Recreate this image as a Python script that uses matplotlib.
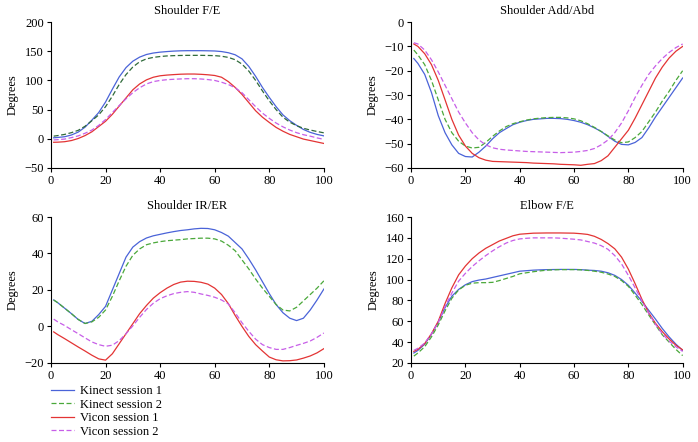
import numpy as np
import matplotlib
matplotlib.use("Agg")
import matplotlib.pyplot as plt

plt.rcParams['font.family'] = ['Liberation Serif', 'DejaVu Serif']
plt.rcParams['font.size'] = 9

# percent of movement cycle
x = [1, 2.5, 5, 7.5, 10, 12.5, 15, 17.5, 20, 22.5, 25, 27.5, 30, 32.5, 35, 37.5, 40,
     42.5, 45, 47.5, 50, 52.5, 55, 57.5, 60, 62.5, 65, 67.5, 70, 72.5, 75, 77.5, 80,
     82.5, 85, 87.5, 90, 92.5, 95, 97.5, 100]

titles = ["Shoulder F/E", "Shoulder Add/Abd", "Shoulder IR/ER", "Elbow F/E"]
labels = ["Kinect session 1", "Kinect session 2", "Vicon session 1", "Vicon session 2"]

# Shoulder F/E
sfe_k1 = [1.7, 2.3, 3.5, 6.5, 11.5, 20, 32, 45, 63, 85, 106, 122, 133, 140, 144.5, 147, 148.5,
          149.5, 150.3, 150.8, 151, 151, 151, 150.8, 150.5, 149.5, 147.5, 144, 137, 124, 107, 88, 71,
          55, 41, 31, 23, 16, 11, 7.5, 5]
sfe_k2 = [4.5, 5.5, 7.5, 10.5, 14.5, 21.5, 31, 41, 55, 73, 93, 110, 123, 132, 137, 139.5, 141,
          142, 142.5, 142.8, 143, 143, 143, 142.8, 142.5, 141.5, 139.5, 135.5, 128, 116, 100, 82, 65,
          50, 37, 28.5, 22.5, 18, 15, 12.5, 10.2]
sfe_v1 = [-6, -5.8, -5, -3, 0.5, 5.5, 12, 21, 30, 42, 56, 70, 84, 94, 101, 105.5, 108,
          109.2, 110, 110.7, 111, 111, 110.5, 109.7, 108.5, 105.5, 98, 88, 76, 62, 48, 37, 28,
          19.5, 13, 7.5, 3.5, -0.5, -3, -5.5, -8]
sfe_v2 = [-2, -1.5, -0.5, 2, 5, 9.5, 15, 23, 33, 45, 57, 68.5, 79, 87.5, 94, 98, 100,
          101.3, 102, 102.6, 103, 103, 102.5, 101.5, 100, 97, 93, 87.5, 79, 67, 55, 44, 35,
          27, 20.5, 15, 10.5, 7, 4.5, 1.5, -1]

# Shoulder Add/Abd
saa_k1 = [-15, -17, -21.5, -29, -38.5, -45.5, -50.5, -54, -55.3, -55.5, -53.5, -51, -48, -45.5, -43.8, -42.2, -41.2,
          -40.5, -40, -39.8, -39.6, -39.6, -39.7, -40, -40.5, -41.2, -42.2, -43.5, -45, -47, -49, -50.3, -50.5,
          -49.5, -47.5, -43.5, -39, -35, -31, -27, -23]
saa_k2 = [-11.5, -13.5, -17.5, -24, -32, -40, -45.5, -49, -51, -51.8, -51.5, -49.5, -47, -44.8, -43, -41.8, -41,
          -40.3, -39.8, -39.5, -39.3, -39.2, -39.2, -39.4, -39.8, -40.6, -41.8, -43.3, -45, -46.8, -48.5, -49.6, -49.3,
          -47.5, -45, -41, -37, -32.5, -28.5, -24, -20]
saa_v1 = [-9, -10, -13, -17.5, -24, -32, -40, -46.5, -51, -54, -55.8, -56.8, -57.3, -57.4, -57.5, -57.6, -57.7,
          -57.8, -58, -58.1, -58.2, -58.3, -58.5, -58.6, -58.7, -58.9, -58.5, -58.2, -57, -55, -51.5, -48, -44.5,
          -39.5, -34, -28.5, -23, -18.5, -14.8, -12, -10]
saa_v2 = [-8.5, -9, -11.5, -15.5, -20.5, -26, -31.5, -37, -41.5, -45.5, -48.5, -50.5, -51.7, -52.3, -52.6, -52.8, -53,
          -53.2, -53.3, -53.4, -53.5, -53.6, -53.7, -53.6, -53.5, -53.2, -52.8, -52, -50.5, -48.5, -45.5, -41.5, -36.5,
          -31, -26, -21.5, -18, -15, -12.5, -10.5, -9]

# Shoulder IR/ER
sie_k1 = [14.5, 13, 10, 7, 3.8, 1.6, 2.8, 6.5, 11, 20, 29, 38, 43.5, 46.5, 48.5, 49.7, 50.5,
          51.3, 52, 52.6, 53, 53.5, 53.8, 53.7, 53, 51.5, 49.5, 46, 42.5, 37, 31, 24.5, 18,
          12, 7.5, 4.5, 3.2, 4.5, 9, 14.5, 20.5]
sie_k2 = [14.5, 13, 10, 7, 3.8, 1.6, 2.5, 5, 9, 16.5, 25, 33, 39, 42.5, 44.8, 45.8, 46.5,
          47, 47.3, 47.6, 48, 48.2, 48.4, 48.4, 48, 46.8, 44.5, 41.5, 36.5, 31.5, 26, 21, 16.5,
          12, 9, 8.5, 10.5, 14, 17.5, 21, 25]
sie_v1 = [-3, -4.5, -6.7, -9, -11.3, -13.5, -15.8, -17.8, -18.5, -15, -9.5, -4, 1.5, 7, 11.5, 15.5, 18.5,
          21, 23, 24.3, 24.8, 24.7, 24.2, 23.2, 21, 17.5, 12.5, 6, 0, -5.5, -10, -13.5, -16.8,
          -18.3, -18.9, -18.8, -18.4, -17.4, -16.2, -14.5, -12.2]
sie_v2 = [4, 2.5, 0.5, -1.8, -4, -6.3, -8.5, -10, -10.9, -10.3, -7.8, -4, 0.3, 5, 9.3, 12.7, 15.2,
          16.8, 18, 18.7, 19.1, 18.7, 17.8, 17, 16, 14.5, 12.3, 7.5, 2, -2.7, -7, -10, -11.6,
          -12.6, -12.6, -11.6, -10.4, -9.3, -8, -6, -3.6]

# Elbow F/E
efe_k1 = [29.5, 32, 38, 47.5, 59, 73, 84, 90.5, 95, 98, 99.5, 100.5, 102, 103.5, 105, 106.5, 108,
          108.5, 109, 109.3, 109.5, 109.6, 109.7, 109.7, 109.7, 109.5, 109, 108.7, 108, 106.5, 104, 100, 94.5,
          87, 79, 70.5, 62, 53, 45, 38, 32]
efe_k2 = [26.5, 29.5, 35.5, 45, 56.5, 70, 82, 90, 94.5, 96.5, 97, 97, 97.3, 99, 101, 103, 105.5,
          106.5, 107.5, 108.3, 109, 109.3, 109.5, 109.5, 109.5, 109.3, 108.8, 108, 107, 105.3, 103, 99, 93.5,
          85, 76, 66, 56.5, 47, 40, 33, 27]
efe_v1 = [31, 33, 38.5, 48, 60, 77, 92, 104.5, 113, 120, 125.5, 130, 133.5, 137, 139.5, 142, 143.5,
          144, 144.5, 144.6, 144.7, 144.7, 144.7, 144.6, 144.5, 144, 143.3, 141.5, 138.5, 134.5, 129.5, 121.5, 110,
          96, 81, 68, 58, 50, 43, 37, 32.5]
efe_v2 = [32, 34, 39, 48, 59, 74, 87, 98.5, 106, 112.5, 118, 123, 127.5, 131.5, 135, 137.5, 139,
          139.6, 140, 140, 140, 140, 139.7, 139.2, 138.7, 138, 136.5, 135, 132.5, 129, 123, 115, 104,
          92, 79.5, 67.5, 57, 48, 41, 35.5, 31]

data = [
    [sfe_k1, sfe_k2, sfe_v1, sfe_v2],
    [saa_k1, saa_k2, saa_v1, saa_v2],
    [sie_k1, sie_k2, sie_v1, sie_v2],
    [efe_k1, efe_k2, efe_v1, efe_v2],
]
ylims = [(-50, 200), (-60, 0), (-20, 60), (20, 160)]
yticks = [np.arange(-50, 201, 50), np.arange(-60, 1, 10), np.arange(-20, 61, 20), np.arange(20, 161, 20)]

colors = ["#4a63d8", "#4aa83a", "#e33434", "#c75ee8"]
styles = ["-", (0, (4, 2)), "-", (0, (4, 2))]

fig = plt.figure(figsize=(6.98, 4.42), dpi=100)
pos = [
    [0.073, 0.620, 0.391, 0.330],
    [0.589, 0.620, 0.389, 0.330],
    [0.073, 0.179, 0.391, 0.330],
    [0.589, 0.179, 0.389, 0.330],
]

handles = []
for i in range(4):
    ax = fig.add_axes(pos[i])
    for j in range(4):
        c = colors[j]
        if i == 0 and j == 1:
            c = "#2f6a3a"  # darker green in the first panel
        ln, = ax.plot(x, data[i][j], color=c, ls=styles[j], lw=0.9)
        if i == 1:
            handles.append(ln)
    ax.set_xlim(0, 100)
    ax.set_ylim(*ylims[i])
    ax.set_xticks(np.arange(0, 101, 20))
    ax.set_yticks(yticks[i])
    ax.spines['top'].set_visible(False)
    ax.spines['right'].set_visible(False)
    ax.spines['left'].set_linewidth(0.8)
    ax.spines['bottom'].set_linewidth(0.8)
    ax.tick_params(direction='out', length=3, width=0.8, pad=2)
    ax.set_title(titles[i], fontsize=9, pad=6)
    ax.set_ylabel("Degrees", labelpad=4)

fig.legend(handles, labels, loc='upper left', bbox_to_anchor=(0.066, 0.14),
           frameon=False, handlelength=1.8, handletextpad=0.5, labelspacing=0.12,
           borderaxespad=0, fontsize=9)

fig.savefig("out.png", dpi=100)
